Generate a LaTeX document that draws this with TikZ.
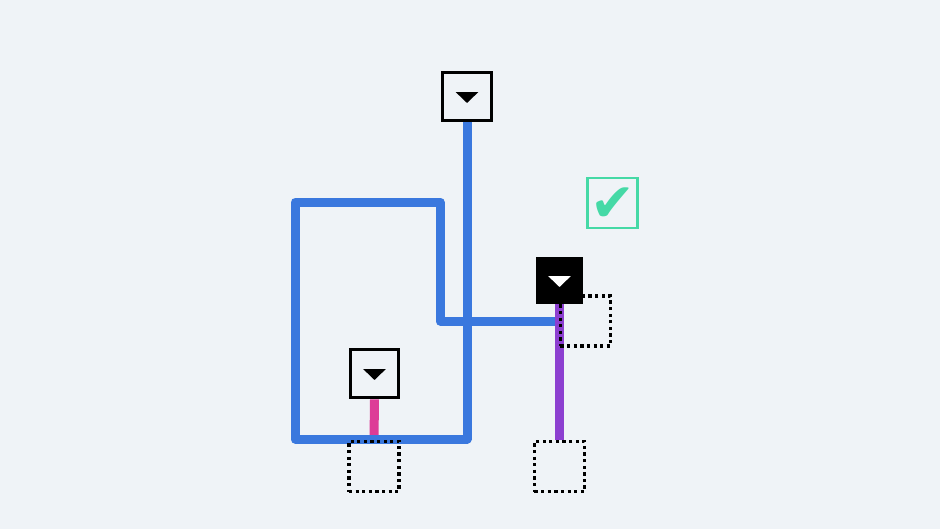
\documentclass[tikz,border=0pt]{standalone}
\usepackage{fontspec}
\newfontfamily\symfont{DejaVu Sans}
\usetikzlibrary{calc,backgrounds}
\definecolor{bg}{HTML}{EFF3F7}
\definecolor{wireblue}{HTML}{3A78DE}
\definecolor{wirepink}{HTML}{DD3C97}
\definecolor{wirepurple}{HTML}{8C3FD0}
\definecolor{okgreen}{HTML}{45D9A6}
\tikzset{valve/.style={
    draw, line width=2.1pt, fill=bg, inner sep=0pt, minimum size=34.7pt,
    path picture={
      \fill[black] ($(path picture bounding box.center)+(-8.1pt,3.2pt)$)
        -- ++(16.2pt,0) -- ++(-8.1pt,-7.8pt) -- cycle;
    }
  }
}
\tikzset{valve open/.style={
    fill=black, inner sep=0pt, minimum size=33.3pt,
    path picture={
      \fill[white] ($(path picture bounding box.center)+(-8.1pt,3.2pt)$)
        -- ++(16.2pt,0) -- ++(-8.1pt,-7.8pt) -- cycle;
    }
  }
}
\tikzset{slot/.style={draw, line width=2.3pt, dash pattern=on 2.3pt off 2.4pt,
    inner sep=0pt, minimum size=35.6pt}}
\tikzset{okbox/.style={draw=okgreen, line width=1.8pt, inner sep=0pt,
    minimum size=35.8pt, text=okgreen}}
\tikzset{wire/.style={line width=6.4pt, line join=round}}

\begin{document}
\begin{tikzpicture}[x=0.025cm, y=-0.025cm]
    \node[valve] (top) at (467,96.5) {};
    \node[valve] (low) at (374.5,373.5) {};
    \node[valve open] (open) at (559.5,280.5) {};
    \node[slot] (slotR) at (585.5,321) {};
    \node[slot] (slotL) at (374,466.5) {};
    \node[slot] (slotB) at (559.5,466.5) {};
    \node[okbox] (ok) at (612.5,203) {};
    \node[text=okgreen, inner sep=0pt] (tick) at (612.5,204.5)
        {\symfont\fontsize{38}{38}\selectfont ✔};
    \coordinate (tee) at (559,321);
    \begin{scope}[on background layer]
    \fill[bg] (0,0) rectangle (940,529);
    \draw[wire, wirepink] (low.south) -- (slotL.north);
    \draw[wire, wireblue] (top.south) -- (top.south |- 0,439) -- (295,439)
        -- (295,202) -- (440,202) |- (tee);
    \draw[wire, wirepurple] (open.south) -- (slotB.north);
    \end{scope}
\end{tikzpicture}
\end{document}
